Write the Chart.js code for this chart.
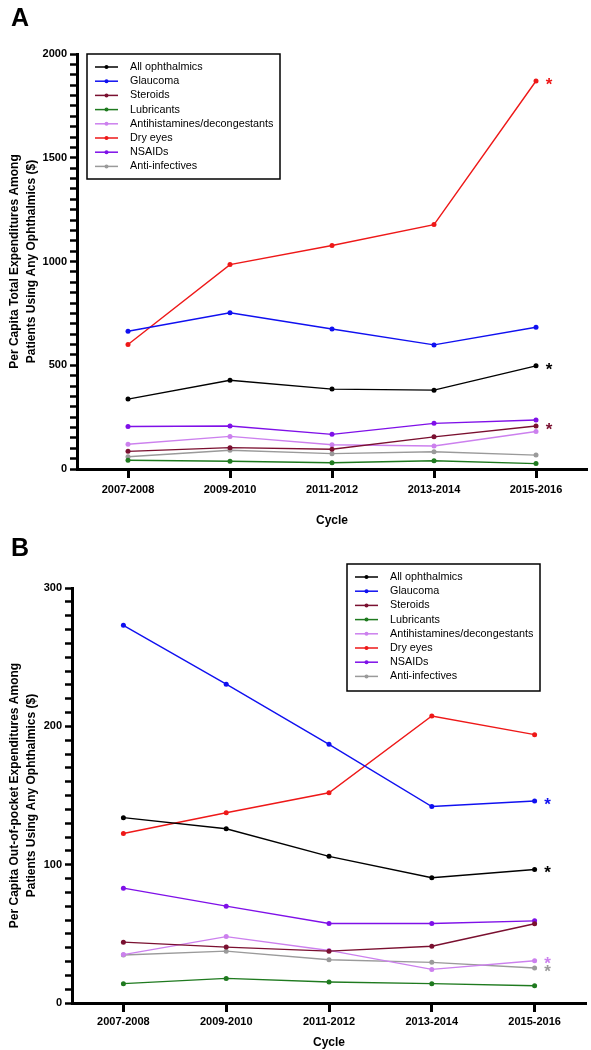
<!DOCTYPE html>
<html>
<head>
<meta charset="utf-8">
<script src="https://cdn.jsdelivr.net/npm/chart.js@4/dist/chart.umd.min.js"></script>
<style>
  body { margin: 0; background: #fff; }
  .wrap { position: relative; width: 591px; height: 1050px; }
  .panel { position: absolute; left: 0; }
  .tag { position: absolute; left: 11px; font: bold 25px/25px 'Liberation Sans', Arial, sans-serif; color: #000; }
</style>
</head>
<body>
<div class="wrap">
  <canvas id="chartA" class="panel" width="591" height="530" style="top:0"></canvas>
  <canvas id="chartB" class="panel" width="591" height="520" style="top:530px"></canvas>
  <div class="tag" style="top:5px">A</div>
  <div class="tag" style="top:535px">B</div>
</div>
<script>
const cycles = ['2007-2008', '2009-2010', '2011-2012', '2013-2014', '2015-2016'];
const seriesNames = ['All ophthalmics', 'Glaucoma', 'Steroids', 'Lubricants',
  'Antihistamines/decongestants', 'Dry eyes', 'NSAIDs', 'Anti-infectives'];
const seriesColors = ['#000000', '#1010f0', '#7a1030', '#1f7a1f',
  '#cc80ee', '#ee1818', '#7f10e8', '#9a9a9a'];

// panel A - per capita total expenditures ($)
const totalAll = [337, 428, 385, 380, 497];
const totalGlaucoma = [664, 753, 675, 598, 683];
const totalSteroids = [85, 103, 95, 155, 207];
const totalLubricants = [42, 37, 30, 40, 26];
const totalAntihist = [119, 157, 117, 111, 181];
const totalDryEyes = [600, 985, 1077, 1178, 1870];
const totalNsaids = [205, 207, 167, 220, 236];
const totalAntiInf = [59, 90, 74, 83, 67];
const totalTicks = [0, 500, 1000, 1500, 2000];
const totalStarred = ['Dry eyes', 'All ophthalmics', 'Steroids'];

// panel B - per capita out-of-pocket expenditures ($)
const oopAll = [134, 126, 106, 90.5, 96.5];
const oopGlaucoma = [273, 230.5, 187, 142, 146];
const oopSteroids = [44, 40.4, 37.5, 41, 57.3];
const oopLubricants = [14, 17.8, 15.2, 14, 12.5];
const oopAntihist = [35, 48, 38, 24.3, 30.5];
const oopDryEyes = [122.5, 137.5, 152, 207.5, 194];
const oopNsaids = [83, 70, 57.5, 57.5, 59.4];
const oopAntiInf = [34.7, 37.5, 31.3, 29.4, 25.3];
const oopTicks = [0, 100, 200, 300];
const oopStarred = ['Glaucoma', 'All ophthalmics', 'Antihistamines/decongestants', 'Anti-infectives'];

const FONT = "'Liberation Sans', Arial, Helvetica, sans-serif";
Chart.defaults.font.family = FONT;
Chart.defaults.color = '#000';

// boxed legend with line + dot samples
const boxLegend = {
  id: 'boxLegend',
  afterDraw(chart, args, opts) {
    const ctx = chart.ctx;
    ctx.save();
    ctx.fillStyle = '#fff';
    ctx.fillRect(opts.x, opts.y, opts.w, opts.h);
    ctx.strokeStyle = '#000';
    ctx.lineWidth = 1.5;
    ctx.strokeRect(opts.x, opts.y, opts.w, opts.h);
    ctx.font = '10.8px ' + FONT;
    ctx.textBaseline = 'middle';
    chart.data.datasets.forEach((ds, i) => {
      const y = opts.y + 13 + i * 14.2;
      ctx.strokeStyle = ds.borderColor;
      ctx.lineWidth = 1.5;
      ctx.beginPath();
      ctx.moveTo(opts.x + 8, y);
      ctx.lineTo(opts.x + 31, y);
      ctx.stroke();
      ctx.fillStyle = ds.borderColor;
      ctx.beginPath();
      ctx.arc(opts.x + 19.5, y, 2, 0, Math.PI * 2);
      ctx.fill();
      ctx.fillStyle = '#000';
      ctx.fillText(ds.label, opts.x + 43, y);
    });
    ctx.restore();
  }
};

// asterisks after the last point of the flagged series
const stars = {
  id: 'stars',
  afterDatasetsDraw(chart, args, opts) {
    const ctx = chart.ctx;
    ctx.save();
    ctx.font = 'bold 17px ' + FONT;
    ctx.textAlign = 'center';
    ctx.textBaseline = 'middle';
    chart.data.datasets.forEach((ds, i) => {
      if (!opts.labels.includes(ds.label)) return;
      const pts = chart.getDatasetMeta(i).data;
      const last = pts[pts.length - 1];
      ctx.fillStyle = ds.borderColor;
      ctx.fillText('*', last.x + 13, last.y + 4);
    });
    ctx.restore();
  }
};

function makeChart(id, series, cfg) {
  return new Chart(document.getElementById(id), {
    type: 'line',
    data: {
      datasets: series.map((vals, i) => ({
        label: seriesNames[i],
        data: vals.map((v, j) => ({ x: j, y: v })),
        borderColor: seriesColors[i],
        backgroundColor: seriesColors[i],
        borderWidth: 1.4,
        pointRadius: 2.5,
        pointBorderWidth: 0,
        tension: 0
      }))
    },
    options: {
      responsive: false,
      animation: false,
      layout: { padding: { top: cfg.top, right: cfg.right, left: 0, bottom: 0 } },
      plugins: {
        legend: { display: false },
        tooltip: { enabled: false },
        boxLegend: cfg.legend,
        stars: { labels: cfg.starred }
      },
      scales: {
        x: {
          type: 'linear',
          min: -0.5,
          max: 4.5,
          afterBuildTicks: s => { s.ticks = cycles.map((c, i) => ({ value: i })); },
          afterFit: s => { s.height = cfg.xHeight; },
          border: { color: '#000', width: 3 },
          grid: { drawOnChartArea: false, tickLength: 9, tickWidth: 3, tickColor: '#000' },
          ticks: {
            autoSkip: false, maxRotation: 0, padding: cfg.xPad,
            font: { size: 11, weight: 'bold' },
            callback: v => cycles[v]
          },
          title: {
            display: true, text: 'Cycle',
            font: { size: 12, weight: 'bold' },
            padding: { top: 0, bottom: cfg.cyclePad }
          }
        },
        y: {
          min: 0,
          max: cfg.yMax,
          afterFit: s => { s.width = cfg.left; },
          border: { color: '#000', width: 3 },
          grid: { drawOnChartArea: false, tickLength: 7, tickWidth: 2.5, tickColor: '#000' },
          ticks: {
            stepSize: cfg.step, autoSkip: false, padding: 3,
            font: { size: 11, weight: 'bold' },
            callback: v => cfg.labels.includes(v) ? v : ''
          },
          title: {
            display: true, text: cfg.title,
            font: { size: 12, weight: 'bold', lineHeight: 1.4 },
            padding: { top: 6.5, bottom: 0 }
          }
        }
      }
    },
    plugins: [boxLegend, stars]
  });
}

makeChart('chartA',
  [totalAll, totalGlaucoma, totalSteroids, totalLubricants, totalAntihist, totalDryEyes, totalNsaids, totalAntiInf],
  {
    top: 54, right: 1, left: 77, xHeight: 61, cyclePad: 2, xPad: 5,
    yMax: 2000, step: 50, labels: totalTicks,
    title: ['Per Capita Total Expenditures Among', 'Patients Using Any Ophthalmics ($)'],
    legend: { x: 87, y: 54, w: 193, h: 125 },
    starred: totalStarred
  });

makeChart('chartB',
  [oopAll, oopGlaucoma, oopSteroids, oopLubricants, oopAntihist, oopDryEyes, oopNsaids, oopAntiInf],
  {
    top: 58, right: 5, left: 72, xHeight: 47, cyclePad: 0, xPad: 3,
    yMax: 300, step: 10, labels: oopTicks,
    title: ['Per Capita Out-of-pocket Expenditures Among', 'Patients Using Any Ophthalmics ($)'],
    legend: { x: 347, y: 34, w: 193, h: 127 },
    starred: oopStarred
  });
</script>
</body>
</html>
